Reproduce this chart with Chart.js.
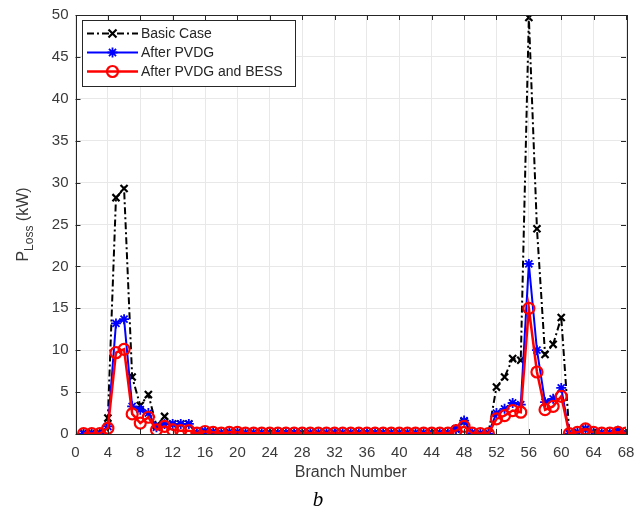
<!DOCTYPE html>
<html>
<head>
<meta charset="utf-8">
<script src="https://cdn.jsdelivr.net/npm/chart.js@4.4.1/dist/chart.umd.min.js"></script>
<style>
  html, body { margin: 0; padding: 0; background: #fff; }
  #wrap { width: 640px; height: 512px; }
</style>
</head>
<body>
<div id="wrap"><canvas id="lossChart" width="640" height="512"></canvas></div>
<script>
// branch numbers 1..68
const branches = [1,2,3,4,5,6,7,8,9,10,11,12,13,14,15,16,17,18,19,20,21,22,23,24,25,26,27,28,29,30,31,32,33,34,
  35,36,37,38,39,40,41,42,43,44,45,46,47,48,49,50,51,52,53,54,55,56,57,58,59,60,61,62,63,64,65,66,67,68];

// P_Loss (kW)
const basicCase = [0.1,0.1,0.1,1.9,28.2,29.3,6.8,3.4,4.7,1.0,2.1,1.2,1.2,1.2,0.1,0.3,0.2,0.1,0.2,0.2,
  0.1,0.1,0.1,0.1,0.1,0.1,0.1,0.1,0.1,0.1,0.1,0.1,0.1,0.1,0.1,0.1,0.1,0.1,0.1,0.1,
  0.1,0.1,0.1,0.1,0.1,0.1,0.6,1.5,0.1,0.05,0.05,5.6,6.8,9.0,8.8,49.7,24.5,9.5,10.7,13.9,
  0.1,0.2,0.6,0.2,0.1,0.1,0.3,0.1];
const afterPVDG = [0.05,0.05,0.05,0.9,13.2,13.7,3.3,2.9,2.5,0.8,1.2,1.2,1.2,1.2,0.1,0.3,0.2,0.1,0.2,0.2,
  0.1,0.1,0.1,0.1,0.1,0.1,0.1,0.1,0.1,0.1,0.1,0.1,0.1,0.1,0.1,0.1,0.1,0.1,0.1,0.1,
  0.1,0.1,0.1,0.1,0.1,0.1,0.6,1.6,0.1,0.05,0.05,2.5,3.0,3.7,3.5,20.3,10.0,3.8,4.2,5.5,
  0.05,0.2,0.6,0.2,0.1,0.1,0.4,0.1];
const afterPVDGBESS = [0.05,0.05,0.05,0.7,9.7,10.1,2.4,1.3,2.0,0.5,0.9,0.5,0.4,0.4,0.1,0.3,0.2,0.1,0.2,0.2,
  0.1,0.1,0.1,0.1,0.1,0.1,0.1,0.1,0.1,0.1,0.1,0.1,0.1,0.1,0.1,0.1,0.1,0.1,0.1,0.1,
  0.1,0.1,0.1,0.1,0.1,0.1,0.4,0.9,0.1,0.05,0.05,1.8,2.2,2.8,2.6,15.0,7.4,2.9,3.3,4.5,
  0.05,0.2,0.6,0.2,0.1,0.1,0.2,0.1];

const seriesNames = ['Basic Case', 'After PVDG', 'After PVDG and BESS'];
const xTicks = [0,4,8,12,16,20,24,28,32,36,40,44,48,52,56,60,64,68];
const yTicks = [0,5,10,15,20,25,30,35,40,45,50];

const axisColor = '#262626';
const textColor = '#3a3a3a';
const font = 'Liberation Sans, Arial, sans-serif';
const blackDash = [7, 3, 2, 3];

const toXY = arr => arr.map((v, i) => ({ x: branches[i], y: v }));

// small marker drawing for the legend
function drawMarker(ctx, kind, x, y, color) {
  ctx.save();
  ctx.strokeStyle = color;
  ctx.setLineDash([]);
  if (kind === 'cross') {
    ctx.lineWidth = 2.2;
    const r = 4;
    ctx.beginPath();
    ctx.moveTo(x - r, y - r); ctx.lineTo(x + r, y + r);
    ctx.moveTo(x + r, y - r); ctx.lineTo(x - r, y + r);
    ctx.stroke();
  } else if (kind === 'star') {
    ctx.lineWidth = 1.8;
    const r = 5;
    ctx.beginPath();
    for (let a = 0; a < 4; a++) {
      const ang = a * Math.PI / 4;
      ctx.moveTo(x - r * Math.cos(ang), y - r * Math.sin(ang));
      ctx.lineTo(x + r * Math.cos(ang), y + r * Math.sin(ang));
    }
    ctx.stroke();
  } else {
    ctx.lineWidth = 2.2;
    ctx.beginPath();
    ctx.arc(x, y, 5.5, 0, Math.PI * 2);
    ctx.stroke();
  }
  ctx.restore();
}

const matlabFrame = {
  id: 'matlabFrame',
  afterDraw(chart) {
    const { ctx, chartArea: a, scales } = chart;
    ctx.save();
    // box
    ctx.strokeStyle = axisColor;
    ctx.lineWidth = 1;
    ctx.strokeRect(Math.round(a.left) + 0.5, Math.round(a.top) + 0.5,
      Math.round(a.right - a.left), Math.round(a.bottom - a.top));
    // inward ticks on all sides
    ctx.beginPath();
    xTicks.forEach(t => {
      const px = Math.round(scales.x.getPixelForValue(t)) + 0.5;
      ctx.moveTo(px, a.bottom); ctx.lineTo(px, a.bottom - 5);
      ctx.moveTo(px, a.top); ctx.lineTo(px, a.top + 5);
    });
    yTicks.forEach(t => {
      const py = Math.round(scales.y.getPixelForValue(t)) + 0.5;
      ctx.moveTo(a.left, py); ctx.lineTo(a.left + 5, py);
      ctx.moveTo(a.right, py); ctx.lineTo(a.right - 5, py);
    });
    ctx.stroke();

    // legend box
    const lx = 82, ly = 20, lw = 213, lh = 66;
    ctx.fillStyle = '#fff';
    ctx.fillRect(lx, ly, lw, lh);
    ctx.strokeRect(lx + 0.5, ly + 0.5, lw, lh);
    const rows = [33.5, 52.5, 71.5];
    const styles = [
      { color: '#000000', dash: blackDash, width: 2, mk: 'cross' },
      { color: '#0000ff', dash: [], width: 2, mk: 'star' },
      { color: '#ff0000', dash: [], width: 2.5, mk: 'circle' }
    ];
    ctx.font = '14px ' + font;
    ctx.textBaseline = 'middle';
    ctx.textAlign = 'left';
    rows.forEach((ry, i) => {
      const s = styles[i];
      ctx.strokeStyle = s.color;
      ctx.lineWidth = s.width;
      ctx.setLineDash(s.dash);
      ctx.beginPath();
      ctx.moveTo(87, ry); ctx.lineTo(138, ry);
      ctx.stroke();
      ctx.setLineDash([]);
      drawMarker(ctx, s.mk, 112.5, ry, s.color);
      ctx.fillStyle = axisColor;
      ctx.fillText(seriesNames[i], 141, ry + 1);
    });

    // axis titles
    ctx.fillStyle = textColor;
    ctx.textAlign = 'center';
    ctx.textBaseline = 'middle';
    ctx.font = '16px ' + font;
    ctx.fillText('Branch Number', (a.left + a.right) / 2, 473);

    // y title with subscript
    ctx.save();
    ctx.translate(24, (a.top + a.bottom) / 2);
    ctx.rotate(-Math.PI / 2);
    const big = '16px ' + font, small = '12px ' + font;
    ctx.font = big; const wP = ctx.measureText('P').width;
    const wRest = ctx.measureText(' (kW)').width;
    ctx.font = small; const wSub = ctx.measureText('Loss').width;
    let cx = -(wP + wSub + wRest) / 2;
    ctx.textAlign = 'left';
    ctx.font = big; ctx.fillText('P', cx, 0); cx += wP;
    ctx.font = small; ctx.fillText('Loss', cx, 6); cx += wSub;
    ctx.font = big; ctx.fillText(' (kW)', cx, 0);
    ctx.restore();

    // caption
    ctx.fillStyle = '#000';
    ctx.font = 'italic 21px "Liberation Serif", "Times New Roman", serif';
    ctx.textAlign = 'center';
    ctx.fillText('b', 318, 500);
    ctx.restore();
  }
};

new Chart(document.getElementById('lossChart').getContext('2d'), {
  type: 'line',
  data: {
    datasets: [
      {
        label: seriesNames[0], data: toXY(basicCase), order: 2,
        borderColor: '#000000', borderWidth: 2, borderDash: blackDash,
        pointStyle: 'crossRot', pointRadius: 5, pointBorderWidth: 2.2,
        pointBorderColor: '#000000', pointBackgroundColor: '#000000', tension: 0
      },
      {
        label: seriesNames[1], data: toXY(afterPVDG), order: 1,
        borderColor: '#0000ff', borderWidth: 2,
        pointStyle: 'star', pointRadius: 5, pointBorderWidth: 1.8,
        pointBorderColor: '#0000ff', pointBackgroundColor: '#0000ff', tension: 0
      },
      {
        label: seriesNames[2], data: toXY(afterPVDGBESS), order: 0,
        borderColor: '#ff0000', borderWidth: 2.5,
        pointStyle: 'circle', pointRadius: 5.5, pointBorderWidth: 2.2,
        pointBorderColor: '#ff0000', pointBackgroundColor: 'rgba(0,0,0,0)', tension: 0
      }
    ]
  },
  options: {
    responsive: false,
    animation: false,
    events: [],
    layout: { padding: { top: 15, right: 14, left: 0, bottom: 0 } },
    plugins: { legend: { display: false }, tooltip: { enabled: false } },
    scales: {
      x: {
        type: 'linear', min: 0, max: 68,
        afterBuildTicks: s => { s.ticks = xTicks.map(v => ({ value: v })); },
        afterFit: s => { s.height = 78; s.paddingLeft = 0; s.paddingRight = 0; },
        grid: { color: '#e8e8e8', drawTicks: false },
        border: { display: false },
        ticks: { color: textColor, font: { family: font, size: 15 }, padding: 10, maxRotation: 0, autoSkip: false }
      },
      y: {
        min: 0, max: 50,
        afterBuildTicks: s => { s.ticks = yTicks.map(v => ({ value: v })); },
        afterFit: s => { s.width = 75.5; s.paddingTop = 0; s.paddingBottom = 0; },
        grid: { color: '#e8e8e8', drawTicks: false },
        border: { display: false },
        ticks: { color: textColor, font: { family: font, size: 15 }, padding: 7 }
      }
    }
  },
  plugins: [matlabFrame]
});
</script>
</body>
</html>
